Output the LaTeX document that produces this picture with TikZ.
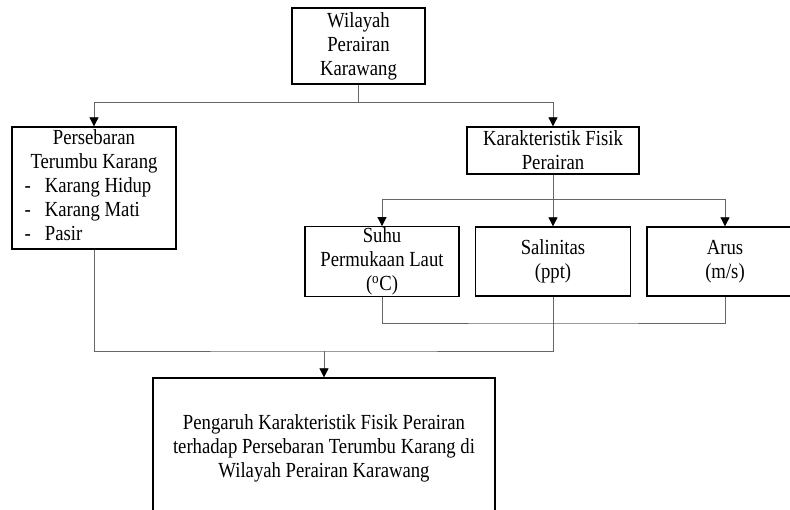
\documentclass[tikz,border=0pt]{standalone}
\usepackage{fontspec}
\setmainfont{Liberation Serif}[FakeStretch=0.87]
\usetikzlibrary{arrows.meta}
\tikzset{
  box/.style={draw=black,line width=1.3pt,inner sep=1pt,align=center,
    font=\fontsize{21.5}{24}\selectfont},
  conn/.style={draw=black!60,line width=0.8pt},
  arr/.style={conn,-{Triangle[length=9pt,width=9pt,black]}}
}
\begin{document}
\begin{tikzpicture}[x=1pt,y=-1pt]
  \useasboundingbox (0,0) rectangle (790,510);
  \clip (0,0) rectangle (790,510);
  % boxes
  \node[box,minimum width=133,minimum height=76] (wilayah) at (358.5,46) {Wilayah\\Perairan\\Karawang};
  \node[box,minimum width=164,minimum height=122] (sebaran) at (94,188) {\begin{tabular}{@{}l@{\hspace{14pt}}l@{\hspace{12pt}}}
    \multicolumn{2}{@{}c@{}}{Persebaran}\\
    \multicolumn{2}{@{}c@{}}{Terumbu Karang}\\
    -&Karang Hidup\\
    -&Karang Mati\\
    -&Pasir
  \end{tabular}};
  \node[box,minimum width=172,minimum height=47] (fisik) at (553,150.5) {Karakteristik Fisik\\Perairan};
  \node[box,minimum width=154,minimum height=69] (suhu) at (382,261.5) {Suhu\\Permukaan Laut\\(\textsuperscript{o}C)};
  \node[box,minimum width=155,minimum height=69] (salinitas) at (553,261.5) {Salinitas\\(ppt)};
  \node[box,minimum width=156,minimum height=69] (arus) at (725,261.5) {Arus\\(m/s)};
  \node[box,minimum width=342,minimum height=140] (hasil) at (324,448) {Pengaruh Karakteristik Fisik Perairan\\terhadap Persebaran Terumbu Karang di\\Wilayah Perairan Karawang};
  % connectors
  \coordinate (split1) at (358.5,102);
  \coordinate (split2) at (553,199);
  \coordinate (join1) at (553,323);
  \coordinate (join2) at (324,351);
  \draw[conn] (wilayah.south) -- (split1);
  \draw[arr] (split1) -| (sebaran.north);
  \draw[arr] (split1) -| (fisik.north);
  \draw[conn] (fisik.south) -- (split2);
  \draw[arr] (split2) -| (suhu.north);
  \draw[arr] (split2) -| (salinitas.north);
  \draw[arr] (split2) -| (arus.north);
  \draw[conn] (suhu.south) |- (join1) -| (arus.south);
  \draw[conn] (sebaran.south) |- (join2) -| (salinitas.south);
  \draw[arr] (join2) -- (hasil.north);
\end{tikzpicture}
\end{document}
